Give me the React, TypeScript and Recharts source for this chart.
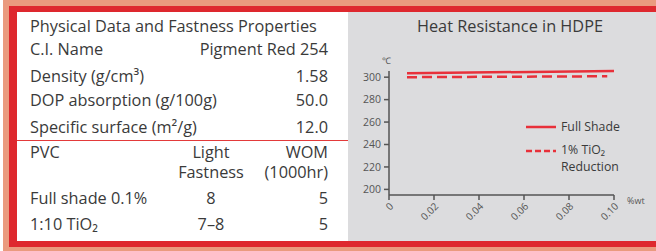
import React from 'react';
import { LineChart, Line, XAxis, YAxis, Legend } from 'recharts';

// ---- Data ----
const propLabels = ['C.I. Name', 'Density (g/cm³)', 'DOP absorption (g/100g)', 'Specific surface (m²/g)'];
const propValues = ['Pigment Red 254', '1.58', '50.0', '12.0'];
const pvcRowLabels = ['Full shade 0.1%', '1:10 TiO₂'];
const lightFastness = ['8', '7–8'];
const womValues = ['5', '5'];

const xTicks = [0, 0.02, 0.04, 0.06, 0.08, 0.1];
const yTicks = [200, 220, 240, 260, 280, 300];

const fullShadeWt = [0.008, 0.1];
const fullShadeTemp = [303.5, 305.5];
const reductionWt = [0.008, 0.097];
const reductionTemp = [300, 300.8];

const fullShadeData = fullShadeWt.map((x, i) => ({ x, y: fullShadeTemp[i] }));
const reductionData = reductionWt.map((x, i) => ({ x, y: reductionTemp[i] }));

const FONT = '"Open Sans", Lato, sans-serif';
const TEXT = '#3a3a3a';
const RED = '#e8303a';
const FS = 16.3;

const rowBaselines = [55, 82, 106, 133];
const pvcBaselines = [204, 230];

function LegendContent() {
  return (
    <div style={{ fontFamily: FONT, color: TEXT, fontSize: 12.3, lineHeight: '16px', textAlign: 'left' }}>
      <div style={{ display: 'flex', alignItems: 'center', height: 16 }}>
        <svg width={35} height={10}>
          <line x1={0} y1={5} x2={30} y2={5} stroke={RED} strokeWidth={2.5} />
        </svg>
        <span>Full Shade</span>
      </div>
      <div style={{ display: 'flex', alignItems: 'flex-start', marginTop: 8 }}>
        <svg width={35} height={16}>
          <line x1={0} y1={8} x2={30} y2={8} stroke={RED} strokeWidth={2.5} strokeDasharray="6 3" />
        </svg>
        <div>
          <div style={{ height: 16, lineHeight: '14px' }}>1% TiO₂</div>
          <div style={{ height: 16 }}>Reduction</div>
        </div>
      </div>
    </div>
  );
}

export default function App() {
  return (
    <div style={{ position: 'absolute', left: 0, top: 0, width: 656, height: 251, background: '#fff', overflow: 'hidden' }}>
      <div style={{ position: 'absolute', left: 3, top: 0, right: 0, bottom: 0, background: '#ea9a7e' }} />
      <div style={{ position: 'absolute', left: 9, top: 6, right: 0, bottom: 4, background: '#de282e' }} />
      <div style={{ position: 'absolute', left: 17, top: 12, width: 331, height: 229, background: '#ffffff' }} />
      <div style={{ position: 'absolute', left: 348, top: 12, width: 308, height: 229, background: '#dcdcde' }} />

      <div style={{ position: 'absolute', left: 348, top: 12 }}>
        <LineChart width={308} height={229} margin={{ top: 59, right: 42, left: 11, bottom: 16 }}>
          <XAxis
            type="number"
            dataKey="x"
            domain={[0, 0.1]}
            ticks={xTicks}
            interval={0}
            tickFormatter={(v: number) => (v === 0 ? '0' : v.toFixed(2))}
            angle={-45}
            textAnchor="end"
            height={30}
            tickSize={5}
            tickMargin={2}
            stroke="#555"
            strokeWidth={1.5}
            tick={{ fontSize: 10, fill: '#555', fontFamily: FONT }}
            label={({ viewBox }: any) => (
              <text x={viewBox.x + viewBox.width + 13} y={viewBox.y + 9} fontSize={9} fill="#555" fontFamily={FONT}>%wt</text>
            )}
          />
          <YAxis
            type="number"
            domain={[195, 305.5]}
            ticks={yTicks}
            interval={0}
            width={30}
            tickSize={5}
            tickMargin={3}
            stroke="#555"
            strokeWidth={1.5}
            tick={{ fontSize: 10.5, fill: '#555', fontFamily: FONT }}
            label={({ viewBox }: any) => (
              <text x={viewBox.x + viewBox.width - 7} y={viewBox.y - 7} fontSize={9} fill="#555" fontFamily={FONT}>℃</text>
            )}
          />
          <Line data={fullShadeData} dataKey="y" name="Full Shade" stroke={RED} strokeWidth={2.5} dot={false} isAnimationActive={false} />
          <Line data={reductionData} dataKey="y" name="1% TiO₂ Reduction" stroke={RED} strokeWidth={2.5} strokeDasharray="10 5" dot={false} isAnimationActive={false} />
          <Legend
            layout="horizontal"
            verticalAlign="middle"
            align="center"
            content={<LegendContent />}
            wrapperStyle={{ position: 'absolute', left: 178, top: 107, width: 120, right: 'auto', bottom: 'auto' }}
          />
        </LineChart>
      </div>

      <svg width={656} height={251} style={{ position: 'absolute', left: 0, top: 0, pointerEvents: 'none' }} fontFamily={FONT}>
        <text x={30} y={32} fontSize={FS} fill={TEXT}>Physical Data and Fastness Properties</text>
        {propLabels.map((l, i) => (
          <text key={l} x={30} y={rowBaselines[i]} fontSize={FS} fill={TEXT}>{l}</text>
        ))}
        {propValues.map((v, i) => (
          <text key={i} x={328} y={rowBaselines[i]} fontSize={FS} fill={TEXT} textAnchor="end">{v}</text>
        ))}
        <line x1={17} y1={140.5} x2={348} y2={140.5} stroke="#e33a3a" strokeWidth={1.2} />
        <text x={30} y={158} fontSize={FS} fill={TEXT}>PVC</text>
        <text x={211} y={158} fontSize={FS} fill={TEXT} textAnchor="middle">Light</text>
        <text x={211} y={178} fontSize={FS} fill={TEXT} textAnchor="middle">Fastness</text>
        <text x={328} y={158} fontSize={FS} fill={TEXT} textAnchor="end">WOM</text>
        <text x={328} y={178} fontSize={FS} fill={TEXT} textAnchor="end">(1000hr)</text>
        {pvcRowLabels.map((l, i) => (
          <text key={l} x={30} y={pvcBaselines[i]} fontSize={FS} fill={TEXT}>{l}</text>
        ))}
        {lightFastness.map((v, i) => (
          <text key={i} x={211} y={pvcBaselines[i]} fontSize={FS} fill={TEXT} textAnchor="middle">{v}</text>
        ))}
        {womValues.map((v, i) => (
          <text key={i} x={328} y={pvcBaselines[i]} fontSize={FS} fill={TEXT} textAnchor="end">{v}</text>
        ))}
        <text x={510} y={32} fontSize={FS} fill={TEXT} textAnchor="middle">Heat Resistance in HDPE</text>
      </svg>
    </div>
  );
}
